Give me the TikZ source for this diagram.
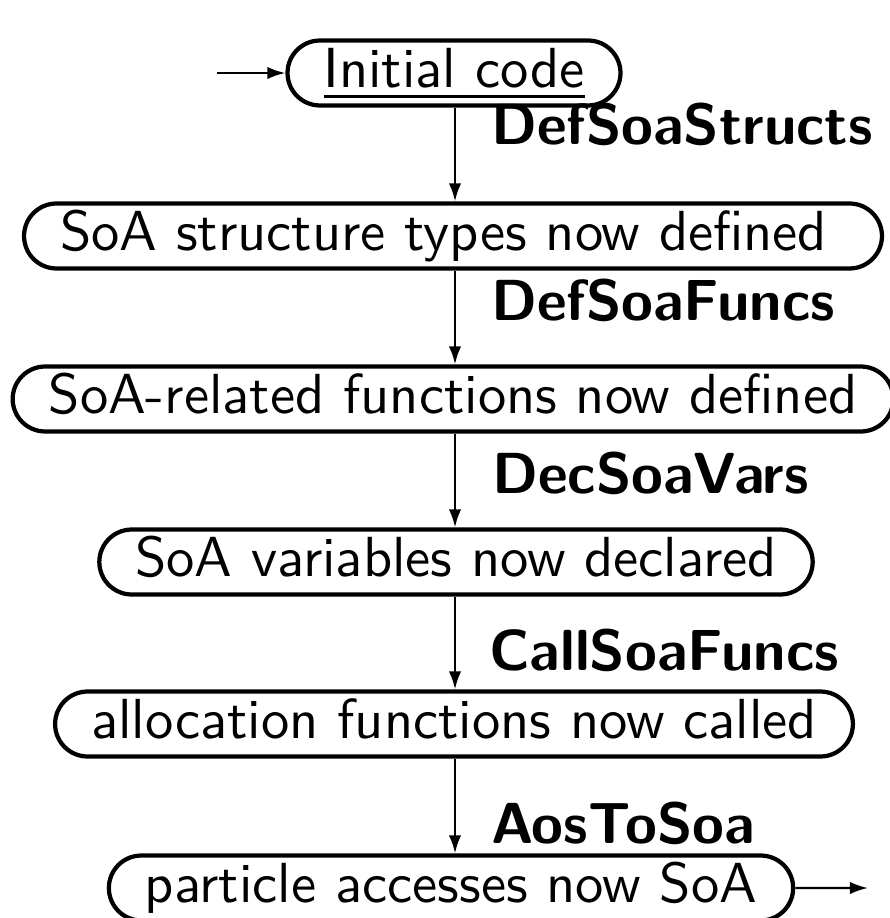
\documentclass[tikz,border=0pt]{standalone}
\usetikzlibrary{shapes.misc,arrows.meta}
\begin{document}
\begin{tikzpicture}[x=0.177pt,y=-0.177pt,
  state/.style={rounded rectangle, draw, line width=0.75pt, font=\sffamily,
    text height=7.3pt, text depth=2pt, inner xsep=4pt, inner ysep=1.1pt},
  lbl/.style={font=\sffamily\bfseries\fontsize{10.25}{12}\selectfont, anchor=base west, inner sep=0pt},
  edge/.style={line width=0.42pt, -{Latex[length=3.2pt,width=2.2pt]}}]
\useasboundingbox (0,0) rectangle (890,918);
\node[state] (n1) at (454,73)  {\underline{Initial code}};
\node[state] (n2) at (453,236) {SoA structure types now defined\kern0.333em};
\node[state] (n3) at (453,399) {SoA-related functions now defined};
\node[state] (n4) at (456,562) {SoA variables now declared};
\node[state] (n5) at (454,724) {allocation functions now called};
\node[state] (n6) at (451,888) {particle accesses now SoA};
\coordinate (in) at (217,73);
\coordinate (out) at (868,888);
\draw[edge] (in) -- (n1);
\draw[edge] (n1.south -| 455,0) -- (n2.north -| 455,0);
\draw[edge] (n2.south -| 455,0) -- (n3.north -| 455,0);
\draw[edge] (n3.south -| 455,0) -- (n4.north -| 455,0);
\draw[edge] (n4.south -| 455,0) -- (n5.north -| 455,0);
\draw[edge] (n5.south -| 455,0) -- (n6.north -| 455,0);
\draw[edge] (n6) -- (out);
\node[lbl] (l1) at (490,145) {DefSoaStructs};
\node[lbl] (l2) at (490,320) {DefSoaFuncs};
\node[lbl] (l3) at (491,493) {DecSoaVars};
\node[lbl] (l4) at (488,670) {CallSoaFuncs};
\node[lbl] (l5) at (490,843) {AosToSoa};
\end{tikzpicture}
\end{document}
